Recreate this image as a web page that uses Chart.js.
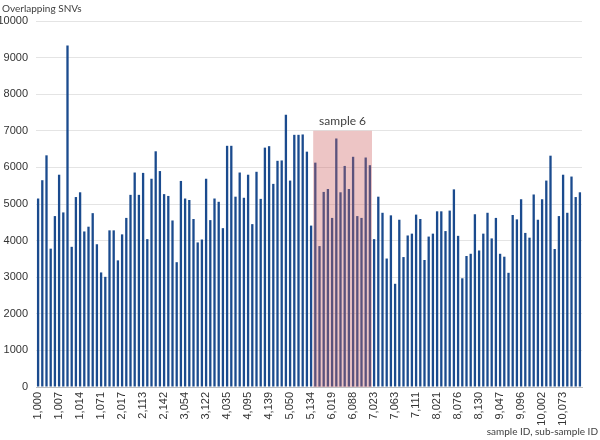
<!DOCTYPE html>
<html>
<head>
<meta charset="utf-8">
<script src="https://cdn.jsdelivr.net/npm/chart.js@4"></script>
<style>
  html, body { margin: 0; padding: 0; background: #ffffff; }
  #wrap { width: 600px; height: 440px; position: relative; }
</style>
</head>
<body>
<div id="wrap"><canvas id="c" width="600" height="440"></canvas></div>
<script>
// Categories: sample ID, sub-sample ID
const categories = [
  "1,000","1,001","1,002","1,003","1,005",
  "1,007","1,008","1,010","1,011","1,012",
  "1,014","1,020","1,033","1,045","1,058",
  "1,071","1,083","1,096","2,004","2,011",
  "2,017","2,035","2,058","2,079","2,096",
  "2,113","2,118","2,124","2,131","2,137",
  "2,142","3,005","3,018","3,030","3,042",
  "3,054","3,067","3,081","3,095","3,108",
  "3,122","3,140","4,004","4,017","4,026",
  "4,035","4,047","4,059","4,071","4,083",
  "4,095","4,104","4,113","4,122","4,131",
  "4,139","5,002","5,016","5,029","5,041",
  "5,050","5,071","5,093","5,110","5,122",
  "5,134","6,001","6,005","6,009","6,014",
  "6,019","6,033","6,046","6,059","6,073",
  "6,088","6,096","6,104","6,111","6,119",
  "7,023","7,031","7,039","7,047","7,055",
  "7,063","7,072","7,082","7,092","7,101",
  "7,111","7,124","8,002","8,008","8,015",
  "8,021","8,032","8,043","8,054","8,065",
  "8,076","8,087","8,098","8,108","8,119",
  "8,130","9,003","9,014","9,025","9,036",
  "9,047","9,057","9,067","9,076","9,086",
  "9,096","9,103","9,110","9,118","9,125",
  "10,002","10,016","10,030","10,044","10,058",
  "10,073","10,085","10,097","10,109","10,120"
];

// Overlapping SNVs per sub-sample
const overlappingSNVs = [
  5150,5650,6330,3780,4670, 5800,4770,9330,3830,5190,
  5320,4250,4380,4750,3900, 3130,3010,4280,4280,3460,
  4170,4620,5250,5860,5250, 5850,4040,5690,6440,5900,
  5270,5220,4550,3410,5630, 5150,5110,4590,3950,4030,
  5690,4560,5150,5060,4340, 6590,6590,5200,5860,5170,
  5800,4450,5880,5140,6540, 6580,5550,6180,6190,7440,
  5640,6890,6890,6900,6430, 4410,6130,3850,5330,5410,
  4620,6790,5320,6040,5410, 6290,4670,4620,6270,6060,
  4040,5200,4760,3510,4690, 2820,4570,3550,4140,4190,
  4710,4590,3470,4110,4190, 4800,4800,4260,4820,5400,
  4130,2970,3580,3640,4720, 3730,4190,4760,4060,4620,
  3640,3560,3120,4700,4580, 5130,4210,4080,5260,4570,
  5130,5640,6320,3770,4670, 5800,4760,5750,5190,5320
];

// Tick labels shown on the x axis
const tickLabels = [
  "1,000","1,007","1,014","1,071","2,017","2,113","2,142","3,054","3,122",
  "4,035","4,095","4,139","5,050","5,134","6,019","6,088","7,023","7,063",
  "7,111","8,021","8,076","8,130","9,047","9,096","10,002","10,073"
];

// Highlighted group
const highlightLabel = "sample 6";
const highlightFrom = "6,001";
const highlightTo = "6,119";
const highlightTop = 7000;

const yTitle = "Overlapping SNVs";
const xTitle = "sample ID, sub-sample ID";

const overlayPlugin = {
  id: 'overlay',
  afterDatasetsDraw(chart) {
    const {ctx, scales: {x, y}} = chart;
    const i0 = categories.indexOf(highlightFrom);
    const i1 = categories.indexOf(highlightTo);
    const half = (x.getPixelForValue(1) - x.getPixelForValue(0)) / 2;
    const left = x.getPixelForValue(i0) - half;
    const right = x.getPixelForValue(i1) + half;
    const top = y.getPixelForValue(highlightTop);
    const bottom = y.getPixelForValue(0);
    ctx.save();
    ctx.fillStyle = 'rgba(205, 95, 95, 0.36)';
    ctx.fillRect(left, top, right - left, bottom - top);
    ctx.fillStyle = '#404040';
    ctx.font = '12px "Lato", "Noto Sans", sans-serif';
    ctx.textAlign = 'center';
    ctx.textBaseline = 'middle';
    ctx.fillText(highlightLabel, (left + right) / 2, top - 10);
    ctx.restore();
  },
  afterDraw(chart) {
    const {ctx} = chart;
    ctx.save();
    ctx.fillStyle = '#404040';
    ctx.font = '10px "Lato", "Noto Sans", sans-serif';
    ctx.textBaseline = 'middle';
    ctx.textAlign = 'left';
    ctx.fillText(yTitle, 2, 9);
    ctx.textAlign = 'right';
    ctx.fillText(xTitle, 598, 432);
    ctx.restore();
  }
};

Chart.defaults.font.family = '"Liberation Sans", Arial, sans-serif';

new Chart(document.getElementById('c'), {
  type: 'bar',
  data: {
    labels: categories,
    datasets: [{
      data: overlappingSNVs,
      backgroundColor: '#1b4b8e',
      borderWidth: 0,
      barPercentage: 0.55,
      categoryPercentage: 1.0
    }]
  },
  options: {
    responsive: false,
    animation: false,
    events: [],
    layout: { padding: { top: 21, right: 18, bottom: 0, left: 0 } },
    plugins: {
      legend: { display: false },
      tooltip: { enabled: false },
      title: { display: false }
    },
    scales: {
      x: {
        grid: { display: false, drawTicks: false },
        border: { display: true, color: '#bfbfbf', width: 1 },
        ticks: {
          autoSkip: false,
          minRotation: 90,
          maxRotation: 90,
          padding: 5,
          color: '#333333',
          font: { size: 11 },
          callback: function(value, index) {
            const lab = categories[index];
            return tickLabels.includes(lab) ? lab : '';
          }
        },
        afterFit(scale) { scale.height = 53; }
      },
      y: {
        min: 0,
        max: 10000,
        grid: { color: '#e4e4e4', lineWidth: 1, drawTicks: false },
        border: { display: false },
        ticks: {
          stepSize: 1000,
          padding: 8,
          color: '#333333',
          font: { size: 11 },
          callback: function(value) { return String(value); }
        },
        afterFit(scale) { scale.width = 36; }
      }
    }
  },
  plugins: [overlayPlugin]
});
</script>
</body>
</html>
